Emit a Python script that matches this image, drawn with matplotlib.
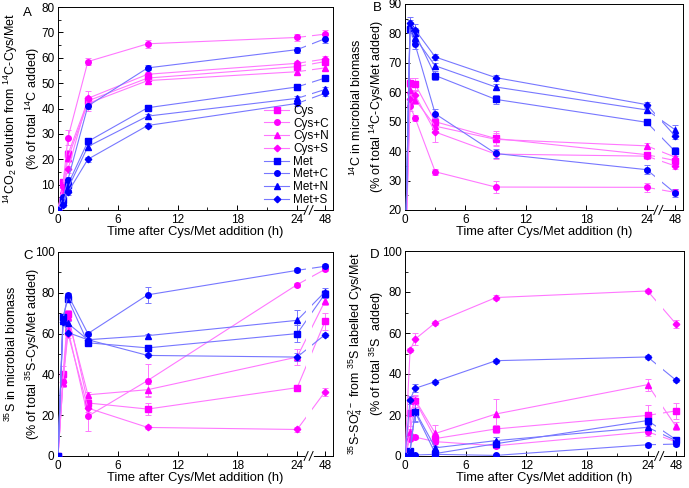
import numpy as np
import matplotlib.pyplot as plt
from matplotlib.ticker import MultipleLocator, FixedLocator

plt.rcParams['font.family'] = ['Liberation Sans', 'DejaVu Sans']
plt.rcParams['mathtext.default'] = 'regular'
plt.rcParams['font.size'] = 8.5

# sampling times (h)
hours = [0, 0.5, 1, 3, 9, 24, 48]
names = ["Cys", "Cys+C", "Cys+N", "Cys+S", "Met", "Met+C", "Met+N", "Met+S"]

# Panel A: 14CO2 evolution
a_cys   = [0, 11, 22, 43, 52, 56.5, 58.5]
a_cys_c = [0, 10, 28.5, 58.5, 65.5, 68, 69.3]
a_cys_n = [0, 8, 20.5, 42, 51, 54.5, 56]
a_cys_s = [0, 9, 16, 44, 53.5, 57.8, 59.5]
a_met   = [0, 4, 10, 27, 40.3, 48.5, 52]
a_met_c = [0, 5, 12, 41, 56, 63.2, 67.5]
a_met_n = [0, 3, 8.5, 25, 37, 44, 47.5]
a_met_s = [0, 2, 7, 20, 33.3, 42, 46]
a_err = [[0, 1, 1.5, 1.5, 1, 1, 1], [0, 1, 3, 1.5, 1.5, 1.5, 1.5],
         [0, 1, 1.5, 3, 1, 1, 1], [0, 1, 1.5, 3, 1, 1, 1],
         [0, 1, 1, 1.5, 1, 0.8, 0.8], [0, 1, 1, 1, 1, 1.2, 1.5],
         [0, 1, 1, 1.5, 1, 1, 1], [0, 0.8, 1, 1, 1, 1, 1]]

# Panel B: 14C in microbial biomass
b_cys   = [0, 63.3, 62.8, 50, 44.3, 38.8, 36.8]
b_cys_c = [0, 55.3, 51.3, 33, 27.8, 27.7, 26]
b_cys_n = [0, 60.7, 57.5, 48.5, 44, 41.8, 38]
b_cys_s = [0, 57.8, 59, 46.5, 39, 38.3, 35]
b_met   = [0, 81.5, 80, 65.7, 57.6, 49.8, 40]
b_met_c = [0, 82, 76.3, 52.7, 39.2, 33.7, 25.8]
b_met_n = [0, 83, 78.5, 69, 61.8, 54, 47.3]
b_met_s = [0, 83.5, 81.3, 72, 65, 55.8, 45.2]
b_err = [[0, 1.5, 2, 1.5, 2.5, 1, 1], [0, 1.5, 1, 1, 2, 1.5, 1],
         [0, 1.5, 1.5, 1.5, 2, 1, 1], [0, 1.5, 1.5, 3.5, 1.5, 1, 1],
         [0, 1.5, 2, 1.5, 1.5, 0.8, 1.5], [0, 1.5, 1.5, 1.5, 1.5, 1.5, 1.5],
         [0, 1.5, 1.5, 1, 1, 1, 1.5], [0, 2, 2, 1, 1, 1, 1]]

# Panel C: 35S in microbial biomass
c_cys   = [0, 40, 69.5, 26, 23, 33.5, 66]
c_cys_c = [0, 37, 62, 19.5, 37, 84, 91.5]
c_cys_n = [0, 36, 68, 30, 32.5, 48.5, 76]
c_cys_s = [0, 36.5, 60, 23.5, 14, 13, 31.5]
c_met   = [0, 68, 77, 55.5, 53, 60, 79.5]
c_met_c = [0, 67, 79, 60, 79, 91, 93]
c_met_n = [0, 66, 65, 57, 59, 66.5, 80.5]
c_met_s = [0, 65.5, 60.5, 57, 49.3, 48.5, 59.5]
c_err = [[0, 4, 2, 2, 3, 1, 4], [0, 2, 2, 7, 8, 1, 1],
         [0, 2, 2, 1.5, 3, 4, 2], [0, 2, 2, 2, 1, 1, 2],
         [0, 1, 1.5, 1, 1, 4, 2], [0, 1, 1, 1, 4, 1, 1],
         [0, 1, 1, 1, 1, 5, 2], [0, 1, 1, 1, 1, 2, 1]]

# Panel D: 35S-SO4 from labelled Cys/Met
d_cys   = [0, 21, 27, 8.5, 13.2, 19.8, 22]
d_cys_c = [0, 8.5, 9.2, 7, 5, 11.8, 7]
d_cys_n = [0, 11.5, 27.5, 11, 20.5, 34.8, 14.5]
d_cys_s = [0, 51.5, 57, 65, 77.3, 80.5, 64.5]
d_met   = [0, 2.5, 21.5, 1.2, 6, 17.3, 8]
d_met_c = [0, 1, 0.5, 0.8, 0.3, 5.5, 5.8]
d_met_n = [0, 2, 22, 4, 7.5, 14, 7.5]
d_met_s = [0, 27.5, 33, 36.3, 46.5, 48.3, 37]
d_err = [[0, 8, 3, 2, 2, 5, 4], [0, 1, 1, 1, 1, 2, 1],
         [0, 3, 2, 4, 7.5, 3, 2], [0, 1, 3, 1, 1, 1, 2],
         [0, 1, 5, 1, 2, 2, 1], [0, 0.5, 0.5, 0.5, 0.5, 1, 1],
         [0, 1, 5, 1, 2, 2, 1], [0, 2, 2, 1, 1, 1, 1]]

panels = [
    ([a_cys, a_cys_c, a_cys_n, a_cys_s, a_met, a_met_c, a_met_n, a_met_s], a_err),
    ([b_cys, b_cys_c, b_cys_n, b_cys_s, b_met, b_met_c, b_met_n, b_met_s], b_err),
    ([c_cys, c_cys_c, c_cys_n, c_cys_s, c_met, c_met_c, c_met_n, c_met_s], c_err),
    ([d_cys, d_cys_c, d_cys_n, d_cys_s, d_met, d_met_c, d_met_n, d_met_s], d_err),
]

ylabels = [
    ("$^{14}$CO$_2$ evolution from $^{14}$C-Cys/Met", "(% of total $^{14}$C added)"),
    ("$^{14}$C in microbial biomass", "(% of total $^{14}$C-Cys/Met added)"),
    ("$^{35}$S in microbial biomass", "(% of total $^{35}$S-Cys/Met added)"),
    ("$^{35}$S-SO$_4^{2-}$ from $^{35}$S labelled Cys/Met", "(% of total $^{35}$S  added)"),
]
ylims = [(0, 80), (20, 90), (0, 100), (0, 100)]
ysteps = [10, 10, 20, 20]
letters = ["A", "B", "C", "D"]

# broken time axis: 48 h drawn just after 24 h
X48 = 26.8
XMAX = 27.6
xpos = [t if t <= 24 else X48 for t in hours]

MAG, BLU = "#ff00ff", "#0000ff"
MAG_LINE, BLU_LINE = "#ff77ff", "#7777ff"
markers = ["s", "o", "^", "D"] * 2
msizes = [3.8, 4.0, 4.3, 3.3] * 2

W, H = 689, 488
fig = plt.figure(figsize=(W / 100, H / 100), dpi=100)
# axes boxes in pixels: left, top, right, bottom
boxes = [(58, 7, 333, 210), (405, 4, 683, 210),
         (58, 252, 333, 456), (405, 251, 684, 456)]
label_x = [(11, 33), (356, 377), (11, 33), (356, 377)]
letter_pos = [(27, 13), (377, 8), (28, 256), (375, 255)]

for k, ((series, errs), box) in enumerate(zip(panels, boxes)):
    l, t, r, b = box
    ax = fig.add_axes([l / W, 1 - b / H, (r - l) / W, (b - t) / H])
    for i, (vals, err) in enumerate(zip(series, errs)):
        full = MAG if i < 4 else BLU
        light = MAG_LINE if i < 4 else BLU_LINE
        ax.errorbar(xpos, vals, yerr=err, fmt="none", ecolor=light,
                    elinewidth=0.7, capsize=2, capthick=0.7, zorder=2)
        ax.plot(xpos, vals, color=light, lw=0.8, marker=markers[i],
                ms=msizes[i], mfc=full, mec=full, zorder=3, label=names[i])
    # gap in the lines at the axis break
    ax.axvspan(24.85, 25.5, ymin=0.01, ymax=0.99, color="white", lw=0, zorder=4)
    tr = ax.get_xaxis_transform()
    ax.plot([24.85, 25.45], [0, 0], color="white", lw=2, transform=tr,
            clip_on=False, zorder=6)
    for xc in (24.9, 25.4):
        ax.plot([xc - 0.2, xc + 0.2], [-0.022, 0.022], color="black", lw=0.7,
                transform=tr, clip_on=False, zorder=7)

    ax.set_xlim(0, XMAX)
    ax.set_ylim(*ylims[k])
    ax.xaxis.set_major_locator(FixedLocator([0, 6, 12, 18, 24, X48]))
    ax.set_xticklabels(["0", "6", "12", "18", "24", "48"])
    ax.xaxis.set_minor_locator(FixedLocator([3, 9, 15, 21]))
    ax.yaxis.set_major_locator(MultipleLocator(ysteps[k]))
    ax.yaxis.set_minor_locator(MultipleLocator(ysteps[k] / 2))
    ax.tick_params(which="both", direction="in", top=False, right=False,
                   labelsize=8.5)
    ax.tick_params(axis="x", pad=3)
    ax.tick_params(axis="y", pad=2.5)
    ax.tick_params(which="major", length=3.5, width=0.7)
    ax.tick_params(which="minor", length=2, width=0.6)
    for sp in ax.spines.values():
        sp.set_linewidth(0.7)
    ax.set_xlabel("Time after Cys/Met addition (h)", fontsize=9.3, labelpad=0)

    ymid = 1 - (t + b) / 2 / H
    for xl, txt in zip(label_x[k], ylabels[k]):
        fig.text(xl / W, ymid, txt, rotation=90, ha="center", va="center",
                 fontsize=9)
    fig.text(letter_pos[k][0] / W, 1 - letter_pos[k][1] / H, letters[k],
             fontsize=9.5, ha="center", va="center")

    if k == 0:
        ax.legend(loc="lower right", frameon=False, fontsize=8.5,
                  handlelength=2.1, labelspacing=0.06, handletextpad=0.35,
                  borderaxespad=0.15, borderpad=0.2)

fig.savefig("out.png", dpi=100)
